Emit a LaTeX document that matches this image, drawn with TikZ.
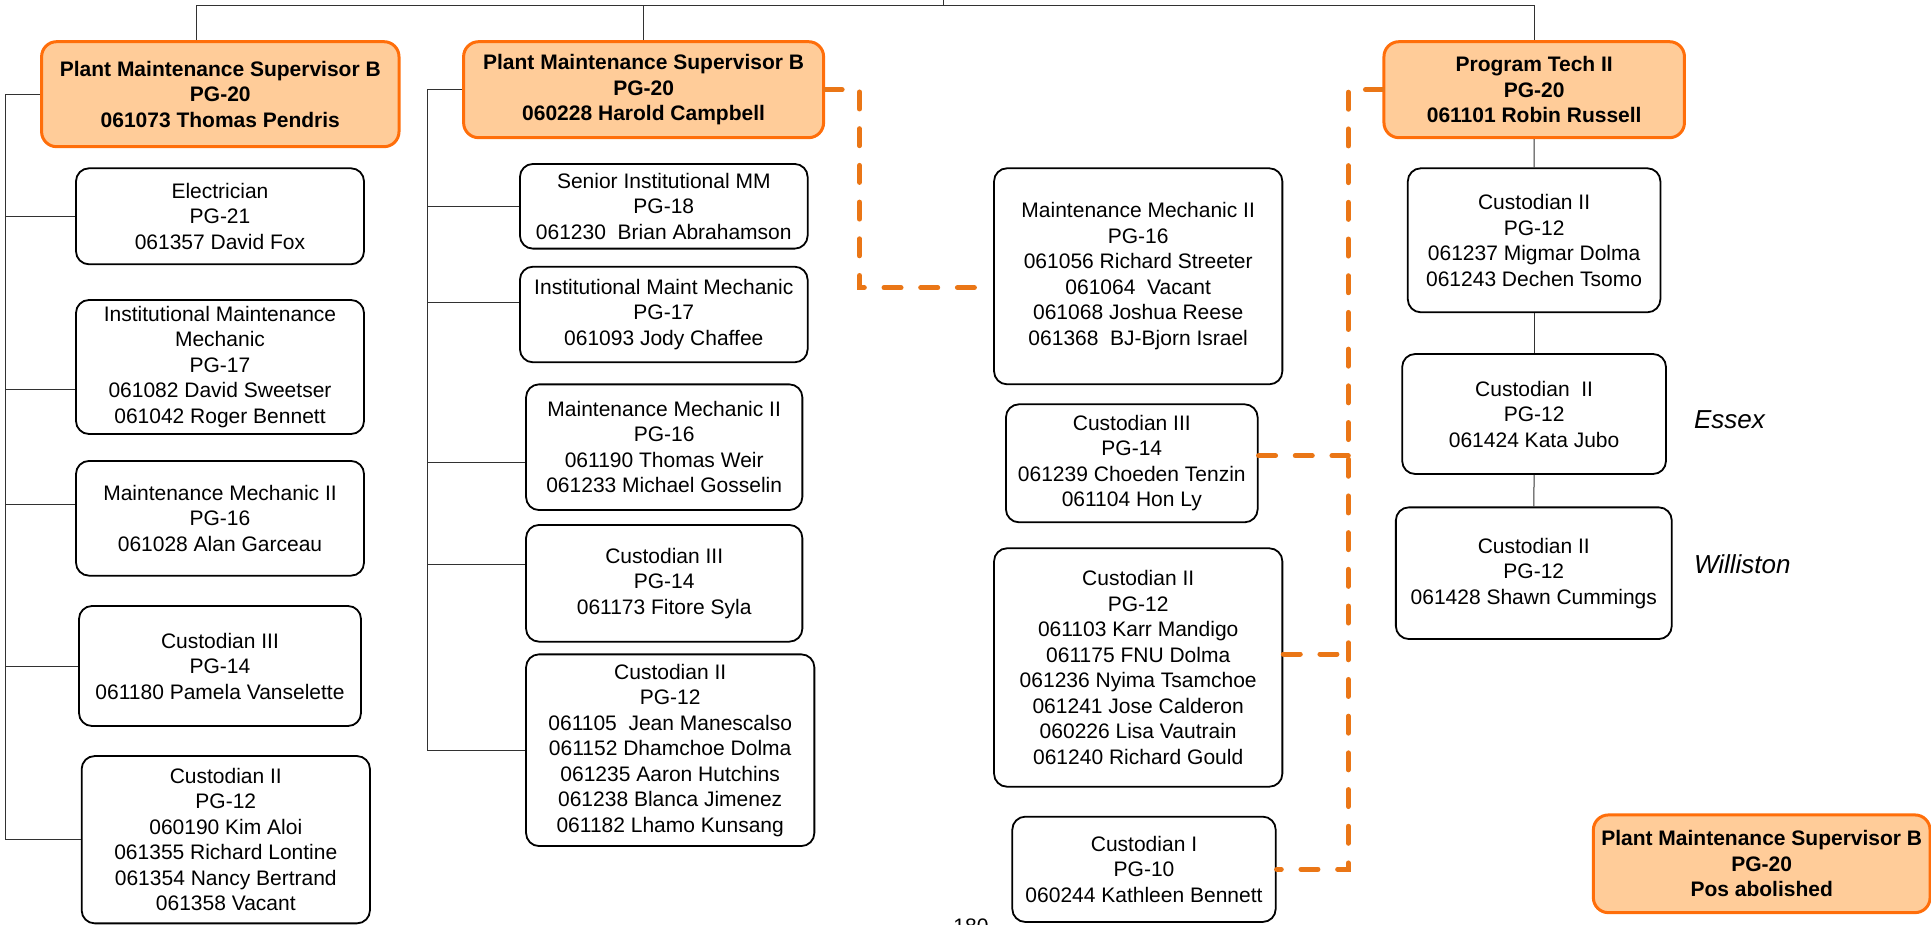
\documentclass[tikz,border=0pt]{standalone}
\usepackage{fontspec}
\setmainfont{Liberation Sans}
\definecolor{peach}{RGB}{255,204,153}
\definecolor{orangeb}{RGB}{255,110,10}
\definecolor{dashor}{RGB}{234,118,22}
\definecolor{treegray}{RGB}{50,50,50}
\begin{document}
\begin{tikzpicture}[x=1pt,y=-1pt,
  box/.style={draw=black, line width=1.8pt, rounded corners=13pt, fill=white, align=center, inner sep=0pt, font=\fontsize{21}{25.5}\selectfont},
  supbox/.style={draw=orangeb, line width=3pt, rounded corners=15pt, fill=peach, align=center, inner sep=0pt, font=\fontsize{21}{25.5}\selectfont\bfseries},
  tree/.style={draw=treegray, line width=1pt},
  link/.style={draw=dashor, line width=5pt, dash pattern=on 17pt off 19.7pt, line cap=round},
  place/.style={anchor=west, font=\fontsize{26}{30}\selectfont\itshape}]
\useasboundingbox (0,0) rectangle (1931,925);

% supervisors
\node[supbox, minimum width=357.4pt, minimum height=105pt] (sup1) at (220.3,94.2) {Plant Maintenance Supervisor B\\PG-20\\061073 Thomas Pendris};
\node[supbox, minimum width=360pt, minimum height=96pt] (sup2) at (643.6,89.7) {Plant Maintenance Supervisor B\\PG-20\\060228 Harold Campbell};
\node[supbox, minimum width=300.5pt, minimum height=96pt] (tech) at (1534.2,89.7) {Program Tech II\\PG-20\\061101 Robin Russell};
\node[supbox, minimum width=336.7pt, minimum height=97.7pt] (abol) at (1761.7,863.8) {Plant Maintenance Supervisor B\\PG-20\\Pos abolished};

% left column
\node[box, minimum width=288pt, minimum height=96pt] (L1) at (220,216.3) {Electrician\\PG-21\\061357 David Fox};
\node[box, minimum width=288pt, minimum height=134pt] (L2) at (220,367) {Institutional Maintenance\\Mechanic\\PG-17\\061082 David Sweetser\\061042 Roger Bennett};
\node[box, minimum width=288pt, minimum height=114.7pt] (L3) at (220,518.3) {Maintenance Mechanic II\\PG-16\\061028 Alan Garceau};
\node[box, minimum width=282pt, minimum height=120pt] (L4) at (220,666) {Custodian III\\PG-14\\061180 Pamela Vanselette};
\node[box, minimum width=288.3pt, minimum height=167.3pt] (L5) at (225.8,839.7) {Custodian II\\PG-12\\060190 Kim Aloi\\061355 Richard Lontine\\061354 Nancy Bertrand\\061358 Vacant};

% middle column
\node[box, minimum width=287.7pt, minimum height=84.7pt] (M1) at (663.8,206.3) {Senior Institutional MM\\PG-18\\061230\ \ Brian Abrahamson};
\node[box, minimum width=287.7pt, minimum height=95.6pt] (M2) at (663.8,314.5) {Institutional Maint Mechanic\\PG-17\\061093 Jody Chaffee};
\node[box, minimum width=276.3pt, minimum height=125.7pt] (M3) at (664.2,447.2) {Maintenance Mechanic II\\PG-16\\061190 Thomas Weir\\061233 Michael Gosselin};
\node[box, minimum width=276.3pt, minimum height=116.7pt] (M4) at (664.2,583.3) {Custodian III\\PG-14\\061173 Fitore Syla};
\node[box, minimum width=288.3pt, minimum height=191.7pt] (M5) at (670.2,750.2) {Custodian II\\PG-12\\061105\ \ Jean Manescalso\\061152 Dhamchoe Dolma\\061235 Aaron Hutchins\\061238 Blanca Jimenez\\061182 Lhamo Kunsang};

% center column
\node[box, minimum width=288.3pt, minimum height=216pt] (C1) at (1138.2,276.3) {Maintenance Mechanic II\\PG-16\\061056 Richard Streeter\\061064\ \ Vacant\\061068 Joshua Reese\\061368\ \ BJ-Bjorn Israel};
\node[box, minimum width=251.7pt, minimum height=118pt] (C2) at (1131.8,463.3) {Custodian III\\PG-14\\061239 Choeden Tenzin\\061104 Hon Ly};
\node[box, minimum width=288.3pt, minimum height=238.4pt] (C3) at (1138.2,667.5) {Custodian II\\PG-12\\061103 Karr Mandigo\\061175 FNU Dolma\\061236 Nyima Tsamchoe\\061241 Jose Calderon\\060226 Lisa Vautrain\\061240 Richard Gould};
\node[box, minimum width=263.4pt, minimum height=105.3pt] (C4) at (1144,869.3) {Custodian I\\PG-10\\060244 Kathleen Bennett};

% right column
\node[box, minimum width=252.6pt, minimum height=144pt] (R1) at (1534.1,240.3) {Custodian II\\PG-12\\061237 Migmar Dolma\\061243 Dechen Tsomo};
\node[box, minimum width=263.8pt, minimum height=120pt] (R2) at (1534.1,414) {Custodian\ \ II\\PG-12\\061424 Kata Jubo};
\node[box, minimum width=275.9pt, minimum height=131.7pt] (R3) at (1533.8,573.2) {Custodian II\\PG-12\\061428 Shawn Cummings};

\node[place] (essex) at (1690.5,419.3) {Essex};
\node[place] (williston) at (1690.5,564.3) {Williston};
\node[anchor=base, font=\fontsize{21}{25.5}\selectfont] (pagenum) at (971,933) {180};

% top connectors
\coordinate (top) at (943,5.7);
\coordinate (parent) at (943,-5);
\draw[tree] ([xshift=-24.3pt]sup1.north) |- (top) -| (tech.north);
\draw[tree] (sup2.north) -- (sup2.north |- top);
\draw[tree] (top) -- (parent);

% left tree
\coordinate (lvx) at (5,0);
\draw[tree] (sup1.west) -- (sup1.west -| lvx) -- (lvx |- L5.west) -- (L5.west);
\draw[tree] (L1.west) -- (L1.west -| lvx);
\draw[tree] ([yshift=-22pt]L2.west) coordinate (l2c) -- (l2c -| lvx);
\draw[tree] ([yshift=14pt]L3.west) coordinate (l3c) -- (l3c -| lvx);
\draw[tree] (L4.west) -- (L4.west -| lvx);

% middle tree
\coordinate (mvx) at (427.7,0);
\draw[tree] (sup2.west) -- (sup2.west -| mvx) -- (mvx |- M5.west) -- (M5.west);
\draw[tree] (M1.west) -- (M1.west -| mvx);
\draw[tree] ([yshift=12.2pt]M2.west) coordinate (m2c) -- (m2c -| mvx);
\draw[tree] ([yshift=-15pt]M3.west) coordinate (m3c) -- (m3c -| mvx);
\draw[tree] ([yshift=19pt]M4.west) coordinate (m4c) -- (m4c -| mvx);

% right tree
\draw[tree] (tech.south) -- (R1.north);
\draw[tree] (R1.south) -- (R2.north);
\draw[tree] (R2.south) -- (R3.north);

% dashed links
\coordinate (dv1) at (859.5,200);
\draw[link] (sup2.east) -| (dv1) |- ([yshift=-11.4pt]C1.west);
\coordinate (dv2) at (1348.3,500);
\draw[link] (tech.west) -| (dv2) |- (C4.east);
\draw[link] ([yshift=7.6pt]C2.east) coordinate (c2e) -- (c2e -| dv2);
\draw[link] ([yshift=13.5pt]C3.east) coordinate (c3e) -- (c3e -| dv2);
\end{tikzpicture}
\end{document}
